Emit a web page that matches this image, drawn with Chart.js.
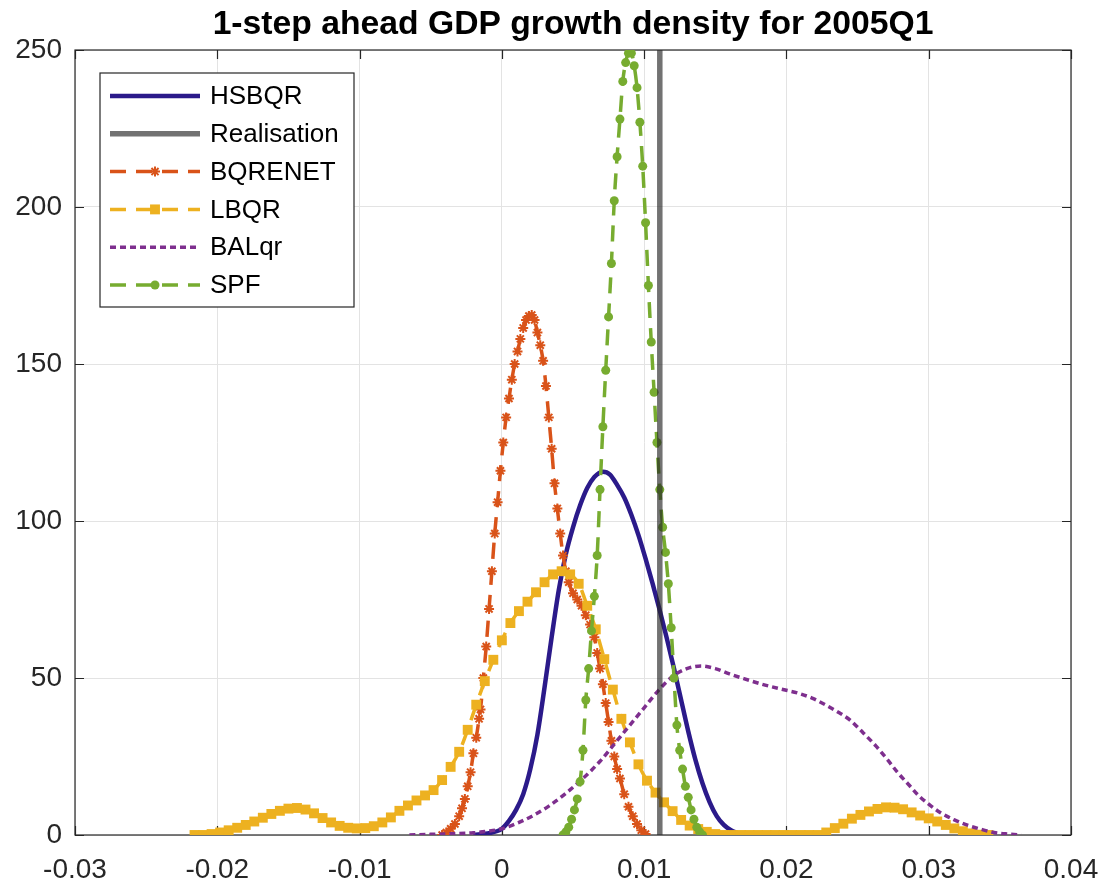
<!DOCTYPE html>
<html>
<head>
<meta charset="utf-8">
<script src="https://cdn.jsdelivr.net/npm/chart.js@4.4.1/dist/chart.umd.min.js"></script>
<style>
  html, body { margin: 0; padding: 0; background: #ffffff; overflow: hidden; }
  canvas { display: block; }
</style>
</head>
<body>
<canvas id="c" width="1107" height="888"></canvas>
<script>
// ---------------- data ----------------
const titleText = '1-step ahead GDP growth density for 2005Q1';
const seriesNames = ['HSBQR', 'Realisation', 'BQRENET', 'LBQR', 'BALqr', 'SPF'];

const xTickValues = [-0.03, -0.02, -0.01, 0, 0.01, 0.02, 0.03, 0.04];
const xTickLabels = ['-0.03', '-0.02', '-0.01', '0', '0.01', '0.02', '0.03', '0.04'];
const yTickValues = [0, 50, 100, 150, 200, 250];
const yTickLabels = ['0', '50', '100', '150', '200', '250'];

const hsbqrX = [-0.0020, -0.0010, 0.0000, 0.0005, 0.0010, 0.0015, 0.0020, 0.0025, 0.0030, 0.0035, 0.0040, 0.0045, 0.0050, 0.0055, 0.0060, 0.0065, 0.0071, 0.0076, 0.0081, 0.0086, 0.0091, 0.0096, 0.0101, 0.0106, 0.0111, 0.0116, 0.0121, 0.0126, 0.0131, 0.0136, 0.0141, 0.0146, 0.0151, 0.0156, 0.0161, 0.0166];
const hsbqrY = [0, 0.5, 2, 4.5, 8, 13, 21, 32, 47, 63, 78, 89.5, 98, 105, 110.5, 114, 115.7, 114.8, 111.5, 107.5, 102, 95.5, 88, 80, 71.5, 62.5, 53, 43, 33, 24, 16.5, 10.5, 6, 3.2, 1.5, 0.5];

const realisationX = [0.0111, 0.0111];
const realisationY = [0, 250];

const bqrenetX = [-0.0042, -0.0039, -0.0036, -0.0033, -0.0030, -0.0028, -0.0026, -0.0024, -0.0022, -0.0020, -0.0018, -0.0016, -0.0015, -0.0013, -0.0011, -0.0009, -0.0007, -0.0005, -0.0003, -0.0001, 0.0001, 0.0003, 0.0005, 0.0007, 0.0009, 0.0011, 0.0013, 0.0015, 0.0017, 0.0019, 0.0021, 0.0023, 0.0025, 0.0027, 0.0029, 0.0031, 0.0033, 0.0035, 0.0037, 0.0039, 0.0041, 0.0043, 0.0045, 0.0047, 0.0050, 0.0053, 0.0056, 0.0059, 0.0062, 0.0065, 0.0067, 0.0069, 0.0071, 0.0073, 0.0075, 0.0077, 0.0079, 0.0081, 0.0083, 0.0086, 0.0089, 0.0092, 0.0095, 0.0098, 0.0101];
const bqrenetY = [0, 0.8, 2, 3.5, 6, 8.5, 11.5, 15.5, 20, 26, 31, 37, 40, 50, 60, 72, 84, 96, 106, 116, 125, 133, 139, 145, 150, 154, 158, 161.5, 164, 165.3, 165.6, 164, 160, 156, 151, 143, 133, 123, 112, 104, 96, 89, 84, 80.5, 77, 75, 73, 70, 67, 63, 58, 53, 48, 42, 36, 30, 25, 21, 18, 13, 9, 6, 3.5, 1.5, 0.3];

const lbqrX = [-0.0216, -0.0210, -0.0204, -0.0198, -0.0192, -0.0186, -0.0180, -0.0174, -0.0168, -0.0162, -0.0156, -0.0150, -0.0144, -0.0138, -0.0132, -0.0126, -0.0120, -0.0114, -0.0108, -0.0102, -0.0096, -0.0090, -0.0084, -0.0078, -0.0072, -0.0066, -0.0060, -0.0054, -0.0048, -0.0042, -0.0036, -0.0030, -0.0024, -0.0018, -0.0012, -0.0006, 0.0000, 0.0006, 0.0012, 0.0018, 0.0024, 0.0030, 0.0036, 0.0042, 0.0048, 0.0054, 0.0060, 0.0066, 0.0072, 0.0078, 0.0084, 0.0090, 0.0096, 0.0102, 0.0108, 0.0114, 0.0120, 0.0126, 0.0132, 0.0138, 0.0144, 0.0150, 0.0156, 0.0162, 0.0168, 0.0174, 0.0180, 0.0186, 0.0192, 0.0198, 0.0204, 0.0210, 0.0216, 0.0222, 0.0228, 0.0234, 0.0240, 0.0246, 0.0252, 0.0258, 0.0264, 0.0270, 0.0276, 0.0282, 0.0288, 0.0294, 0.0300, 0.0306, 0.0312, 0.0318, 0.0324, 0.0330, 0.0336, 0.0342];
const lbqrY = [0, 0, 0.3, 0.8, 1.5, 2.3, 3.2, 4.3, 5.5, 6.7, 7.7, 8.4, 8.6, 8.1, 6.9, 5.4, 4, 2.9, 2.3, 2.1, 2.2, 2.8, 4, 5.6, 7.7, 9.4, 11, 12.6, 14.3, 17.5, 21.7, 26.5, 33.5, 41.5, 49, 55.8, 62, 67.5, 71.3, 74.3, 77.3, 80.5, 83, 84, 83, 80, 73, 65.5, 56, 46.3, 37, 29.5, 22.5, 17.3, 13.5, 10.4, 7.6, 4.8, 3, 1.9, 1, 0.3, 0, 0, 0, 0, 0, 0, 0, 0, 0, 0, 0, 0, 0.8, 2.2, 3.6, 5.2, 6.4, 7.5, 8.3, 8.8, 8.7, 8.2, 7.2, 6.2, 5.3, 4.3, 3.2, 2.1, 1.2, 0.5, 0.1, 0];

const balqrX = [-0.0065, -0.0050, -0.0035, -0.0020, -0.0010, 0.0000, 0.0011, 0.0022, 0.0033, 0.0045, 0.0057, 0.0069, 0.0080, 0.0090, 0.0100, 0.0110, 0.0120, 0.0130, 0.0140, 0.0150, 0.0160, 0.0170, 0.0183, 0.0195, 0.0208, 0.0218, 0.0226, 0.0235, 0.0245, 0.0254, 0.0263, 0.0271, 0.0278, 0.0286, 0.0293, 0.0300, 0.0308, 0.0318, 0.0328, 0.0337, 0.0346, 0.0356, 0.0365];
const balqrY = [0, 0.2, 0.4, 0.7, 1.2, 2, 3.8, 6.2, 9.2, 13.3, 18, 23.5, 29.5, 35, 40.5, 46, 50.5, 53, 53.8, 53, 51.3, 49.8, 48, 46.6, 45.2, 43.6, 41.8, 39.5, 36.5, 32.5, 28.3, 24, 20, 16, 12.5, 9.8, 7.2, 4.8, 3, 1.8, 0.8, 0.3, 0];

const spfX = [0.0043, 0.0045, 0.0047, 0.0049, 0.0051, 0.0053, 0.0055, 0.0057, 0.0059, 0.0061, 0.0063, 0.0065, 0.0067, 0.0069, 0.0071, 0.0073, 0.0075, 0.0077, 0.0079, 0.0081, 0.0083, 0.0085, 0.0087, 0.0089, 0.0091, 0.0093, 0.0095, 0.0097, 0.0099, 0.0101, 0.0103, 0.0105, 0.0107, 0.0109, 0.0111, 0.0113, 0.0115, 0.0117, 0.0119, 0.0121, 0.0123, 0.0125, 0.0127, 0.0129, 0.0131, 0.0133, 0.0135, 0.0137, 0.0139, 0.0141];
const spfY = [0, 1, 2.5, 5, 8, 11.5, 17, 27, 43, 53, 65, 76, 89, 110, 130, 148, 165, 182, 202, 216, 228, 240, 246, 249, 249, 245, 238, 227, 213, 195, 175, 157, 141, 125, 110, 98, 90, 80, 66, 50, 35, 27, 21, 15.5, 12, 8, 5, 2.5, 1, 0];

// ---------------- helpers ----------------
function pts(xs, ys) { return xs.map((x, i) => ({ x: x, y: ys[i] })); }

const AX = '#262626';
const FONT = '"Liberation Sans", Arial, Helvetica, sans-serif';

const datasets = [
  { label: seriesNames[0], data: pts(hsbqrX, hsbqrY), borderColor: '#2B1A8A', backgroundColor: '#2B1A8A',
    borderWidth: 4.5, pointRadius: 0, cubicInterpolationMode: 'monotone', order: 6 },
  { label: seriesNames[1], data: pts(realisationX, realisationY), borderColor: 'rgba(38,38,38,0.65)', backgroundColor: 'rgba(38,38,38,0.65)',
    borderWidth: 5.5, pointRadius: 0, tension: 0, order: 0 },
  { label: seriesNames[2], data: pts(bqrenetX, bqrenetY), borderColor: '#D95319', backgroundColor: '#D95319',
    borderWidth: 3.5, borderDash: [16, 10], pointStyle: 'star', pointRadius: 5, pointBorderWidth: 2,
    cubicInterpolationMode: 'monotone', order: 4 },
  { label: seriesNames[3], data: pts(lbqrX, lbqrY), borderColor: '#EDB120', backgroundColor: '#EDB120',
    borderWidth: 3.5, borderDash: [16, 10], pointStyle: 'rect', pointRadius: 7, pointBorderWidth: 0,
    cubicInterpolationMode: 'monotone', order: 3 },
  { label: seriesNames[4], data: pts(balqrX, balqrY), borderColor: '#7E2F8E', backgroundColor: '#7E2F8E',
    borderWidth: 3.5, borderDash: [6, 4], pointRadius: 0, cubicInterpolationMode: 'monotone', order: 2 },
  { label: seriesNames[5], data: pts(spfX, spfY), borderColor: '#77AC30', backgroundColor: '#77AC30',
    borderWidth: 3.5, borderDash: [16, 10], pointStyle: 'circle', pointRadius: 4.5, pointBorderWidth: 0,
    cubicInterpolationMode: 'monotone', order: 1 }
];

function drawMarker(ctx, ds, x, y) {
  const r = ds.pointRadius || 0;
  if (!r) return;
  ctx.save();
  ctx.setLineDash([]);
  ctx.fillStyle = ds.backgroundColor;
  ctx.strokeStyle = ds.borderColor;
  ctx.lineWidth = ds.pointBorderWidth || 0;
  if (Chart.helpers && Chart.helpers.drawPoint) {
    Chart.helpers.drawPoint(ctx, { pointStyle: ds.pointStyle, rotation: 0, radius: r, borderWidth: ds.pointBorderWidth || 0 }, x, y);
  }
  ctx.restore();
}

const frame = {
  id: 'frame',
  beforeDatasetsDraw(chart) {
    const { ctx, chartArea: a, scales } = chart;
    ctx.save();
    ctx.strokeStyle = AX;
    ctx.lineWidth = 1.2;
    ctx.setLineDash([]);
    const tl = 9;
    ctx.beginPath();
    xTickValues.forEach(v => {
      const px = Math.round(scales.x.getPixelForValue(v)) + 0.5;
      ctx.moveTo(px, a.bottom); ctx.lineTo(px, a.bottom - tl);
      ctx.moveTo(px, a.top); ctx.lineTo(px, a.top + tl);
    });
    yTickValues.forEach(v => {
      const py = Math.round(scales.y.getPixelForValue(v)) + 0.5;
      ctx.moveTo(a.left, py); ctx.lineTo(a.left + tl, py);
      ctx.moveTo(a.right, py); ctx.lineTo(a.right - tl, py);
    });
    ctx.stroke();
    ctx.strokeRect(a.left, a.top, a.right - a.left, a.bottom - a.top);
    ctx.restore();
  }
};

const titlePlugin = {
  id: 'plotTitle',
  afterDraw(chart) {
    const { ctx, chartArea: a } = chart;
    ctx.save();
    ctx.fillStyle = '#000000';
    ctx.font = 'bold 33.7px ' + FONT;
    ctx.textAlign = 'center';
    ctx.textBaseline = 'middle';
    ctx.fillText(titleText, (a.left + a.right) / 2, 25);
    ctx.restore();
  }
};

const boxLegend = {
  id: 'boxLegend',
  afterDraw(chart) {
    const { ctx, chartArea: a } = chart;
    const lx = a.left + 25, ly = a.top + 23, lw = 254, lh = 234;
    ctx.save();
    ctx.fillStyle = '#ffffff';
    ctx.fillRect(lx, ly, lw, lh);
    ctx.strokeStyle = AX;
    ctx.lineWidth = 1.2;
    ctx.setLineDash([]);
    ctx.strokeRect(lx, ly, lw, lh);
    const rowH = 37.8;
    chart.data.datasets.forEach((ds, i) => {
      const cy = ly + 23 + i * rowH;
      ctx.save();
      ctx.strokeStyle = ds.borderColor;
      ctx.lineWidth = ds.borderWidth;
      ctx.setLineDash(ds.borderDash || []);
      ctx.beginPath();
      ctx.moveTo(lx + 10, cy);
      ctx.lineTo(lx + 100, cy);
      ctx.stroke();
      ctx.restore();
      drawMarker(ctx, ds, lx + 55, cy);
      ctx.fillStyle = '#000000';
      ctx.font = '26px ' + FONT;
      ctx.textAlign = 'left';
      ctx.textBaseline = 'middle';
      ctx.fillText(ds.label, lx + 110, cy + 1);
    });
    ctx.restore();
  }
};

new Chart(document.getElementById('c'), {
  type: 'line',
  data: { datasets: datasets },
  options: {
    responsive: false,
    animation: false,
    devicePixelRatio: 1,
    layout: { padding: { left: 0, right: 36, top: 50, bottom: 0 } },
    plugins: {
      legend: { display: false },
      tooltip: { enabled: false },
      title: { display: false }
    },
    scales: {
      x: {
        type: 'linear',
        min: -0.03, max: 0.04,
        afterBuildTicks: s => { s.ticks = xTickValues.map(v => ({ value: v })); },
        afterFit: s => { s.height = 53; s.paddingLeft = 0; s.paddingRight = 0; },
        grid: { color: '#E3E3E3', lineWidth: 1, drawTicks: false },
        border: { display: false },
        ticks: {
          padding: 18,
          color: AX,
          font: { family: FONT, size: 28 },
          maxRotation: 0,
          callback: v => xTickLabels[xTickValues.findIndex(t => Math.abs(t - v) < 1e-9)]
        }
      },
      y: {
        type: 'linear',
        min: 0, max: 250,
        afterBuildTicks: s => { s.ticks = yTickValues.map(v => ({ value: v })); },
        afterFit: s => { s.width = 75; s.paddingTop = 0; s.paddingBottom = 0; },
        grid: { color: '#E3E3E3', lineWidth: 1, drawTicks: false },
        border: { display: false },
        ticks: {
          padding: 13,
          color: AX,
          font: { family: FONT, size: 28 },
          callback: v => yTickLabels[yTickValues.findIndex(t => Math.abs(t - v) < 1e-9)]
        }
      }
    }
  },
  plugins: [frame, boxLegend, titlePlugin]
});
</script>
</body>
</html>
